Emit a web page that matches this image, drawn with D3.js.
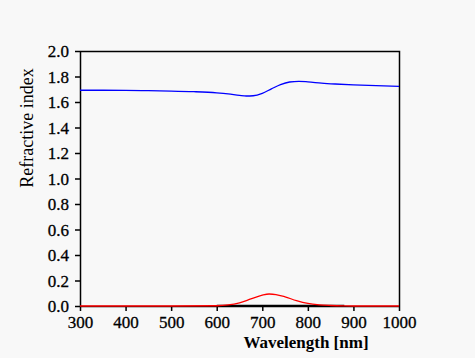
<!DOCTYPE html>
<html><head><meta charset="utf-8">
<script src="https://cdn.jsdelivr.net/npm/d3@7"></script>
<style>body{margin:0;background:#f8f8f8}svg{display:block}</style>
</head><body>
<script>
const nWavelength = [300,350,400,450,500,550,600,625,650,665,680,700,720,740,760,780,800,830,860,900,950,1000];
const nValues     = [1.692,1.692,1.691,1.689,1.686,1.681,1.672,1.664,1.652,1.647,1.649,1.668,1.703,1.737,1.757,1.762,1.758,1.748,1.741,1.734,1.728,1.722];
const kWavelength = [300,400,500,600,625,650,675,700,715,730,750,775,800,825,850,880,900,1000];
const kValues     = [0,0,0,0.002,0.008,0.025,0.055,0.085,0.094,0.09,0.072,0.042,0.02,0.009,0.004,0.001,0,0];
const blackWavelength = [600,880];
const blackValues = [0.004,0.004];
const xTicks = [300,400,500,600,700,800,900,1000];
const yTicks = [0,0.2,0.4,0.6,0.8,1.0,1.2,1.4,1.6,1.8,2.0];

const FONT="'Liberation Serif','Times New Roman',serif";
const W=475,H=358, L=80,R=399,T=51,B=306;
const svg=d3.select("body").append("svg").attr("width",W).attr("height",H)
  .attr("font-family",FONT);
svg.append("rect").attr("width",W).attr("height",H).attr("fill","#f8f8f8");
const x=d3.scaleLinear().domain([300,1000]).range([L,R]);
const y=d3.scaleLinear().domain([0,2]).range([B,T]);

const line=(xs,ys)=>d3.line().x((d,i)=>x(xs[i])).y((d,i)=>y(ys[i])).curve(d3.curveMonotoneX)(xs);

svg.append("path").attr("d",`M${L},${T+0.5}H${R+0.5}V${B}`).attr("fill","none").attr("stroke","#000").attr("stroke-width",1.5);

const gx=svg.append("g").attr("transform",`translate(0,${B})`)
  .call(d3.axisBottom(x).tickValues(xTicks).tickFormat(d3.format("d")).tickSize(5).tickSizeOuter(0));
const gy=svg.append("g").attr("transform",`translate(${L},0)`)
  .call(d3.axisLeft(y).tickValues(yTicks).tickFormat(d3.format(".1f")).tickSize(5).tickSizeOuter(0));
[gx,gy].forEach(g=>{
  g.attr("font-family",FONT).attr("font-size",17);
  g.selectAll("path,line").attr("stroke","#000").attr("stroke-width",1.5);
  g.selectAll("text").attr("fill","#000").attr("stroke","#000").attr("stroke-width",0.3);
});
gx.selectAll("text").attr("y",0).attr("dy",null).attr("dominant-baseline",null).each(function(){d3.select(this).attr("y",22);});
gy.selectAll("text").attr("x",-11).attr("dy","0.33em");

svg.append("path").attr("d",line(blackWavelength,blackValues)).attr("fill","none").attr("stroke","#000").attr("stroke-width",1.3);
svg.append("path").attr("d",line(kWavelength,kValues)).attr("fill","none").attr("stroke","#ff0000").attr("stroke-width",1.3);
svg.append("path").attr("d",line(nWavelength,nValues)).attr("fill","none").attr("stroke","#0000ff").attr("stroke-width",1.3);

svg.append("text").attr("x",306).attr("y",348).attr("text-anchor","middle")
  .attr("font-size",17).attr("font-weight","bold").text("Wavelength [nm]");
svg.append("text").attr("transform","translate(33,128) rotate(-90)").attr("text-anchor","middle")
  .attr("font-size",18).text("Refractive index");
</script>
</body></html>
